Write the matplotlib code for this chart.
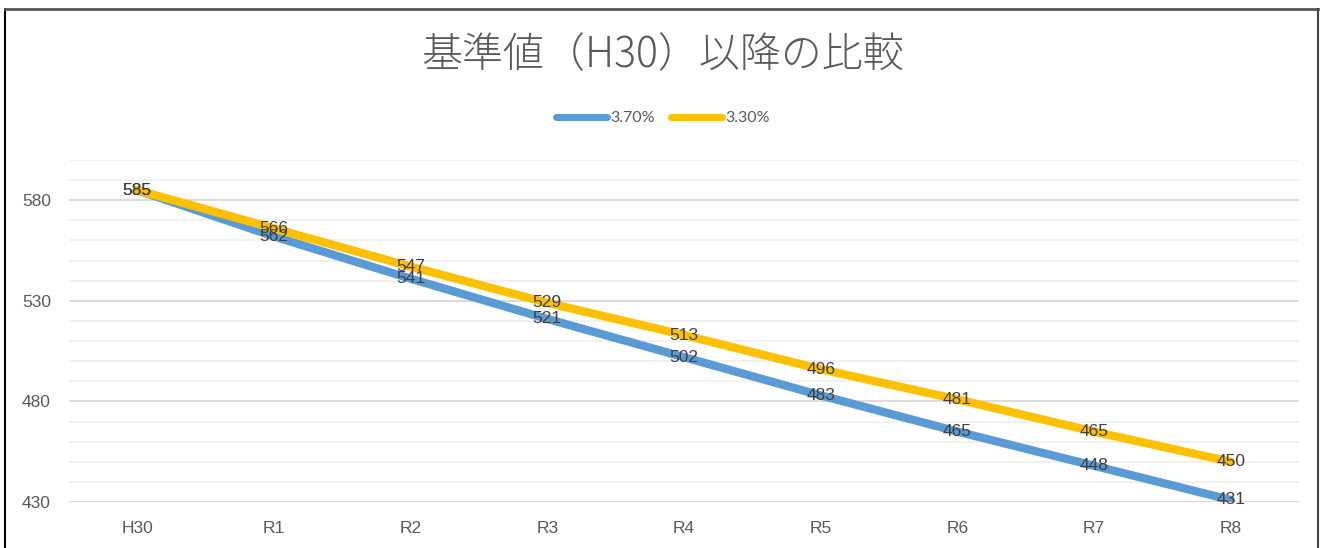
import numpy as np
import matplotlib
matplotlib.use("Agg")
import matplotlib.pyplot as plt
from matplotlib.lines import Line2D

plt.rcParams["font.family"] = ["Noto Sans CJK JP", "DejaVu Sans"]

# data
periods = ["H30", "R1", "R2", "R3", "R4", "R5", "R6", "R7", "R8"]
rate_370 = [585, 562, 541, 521, 502, 483, 465, 448, 431]
rate_330 = [585, 566, 547, 529, 513, 496, 481, 465, 450]
series_names = ["3.70%", "3.30%"]

W, H = 1323, 548
fig = plt.figure(figsize=(W / 100, H / 100), dpi=100)
ax = fig.add_axes([69 / W, 1 - 502 / H, (1299 - 69) / W, (502 - 160) / H])

blue = "#5B9BD5"
gold = "#FFC000"
text_c = "#595959"
num_font = ["Liberation Sans", "DejaVu Sans"]

x = np.arange(len(periods))
ax.set_xlim(-0.5, len(periods) - 0.5)
ax.set_ylim(430, 600)

# gridlines: minor every 10, major every 50
for v in range(430, 601, 10):
    major = (v - 430) % 50 == 0
    ax.axhline(v, color="#D9D9D9" if major else "#F0F0F0", lw=1.3, zorder=0)

ax.plot(x, rate_370, color=blue, lw=6, solid_capstyle="round", zorder=2)
ax.plot(x, rate_330, color=gold, lw=6, solid_capstyle="round", zorder=3)

for series in (rate_370, rate_330):
    for xi, v in zip(x, series):
        ax.text(xi, v, str(v), ha="center", va="center", fontsize=12.5,
                color="#404040", family=num_font, zorder=4)

ax.set_yticks([430, 480, 530, 580])
ax.set_xticks(x)
ax.set_xticklabels(periods)
ax.tick_params(length=0, labelsize=12.5, labelcolor=text_c)
ax.tick_params(axis="x", pad=14)
ax.tick_params(axis="y", pad=13)
for lab in ax.get_xticklabels() + ax.get_yticklabels():
    lab.set_family(num_font)
for s in ax.spines.values():
    s.set_visible(False)

fig.text(663 / W, 1 - 55 / H, "基準値（H30）以降の比較", ha="center", va="center",
         fontsize=29.5, color=text_c, fontweight="light")

handles = [Line2D([], [], color=blue, lw=5, solid_capstyle="round"),
           Line2D([], [], color=gold, lw=5, solid_capstyle="round")]
fig.legend(handles, series_names, loc="center", bbox_to_anchor=(663 / W, 1 - 118 / H),
           ncol=2, frameon=False, labelcolor=text_c, handlelength=3.2,
           handletextpad=0.2, columnspacing=1.0, prop={"family": "Lato", "size": 11.5})

# outer frame
fig.add_artist(Line2D([5 / W, 5 / W], [0, 1 - 9 / H], color="black", lw=1.5))
fig.add_artist(Line2D([5 / W, 1318 / W], [1 - 9 / H, 1 - 9 / H], color="#555555", lw=2))
fig.add_artist(Line2D([1318 / W, 1318 / W], [0, 1 - 9 / H], color="#444444", lw=1.5))

fig.savefig("out.png", dpi=100, facecolor="white")
